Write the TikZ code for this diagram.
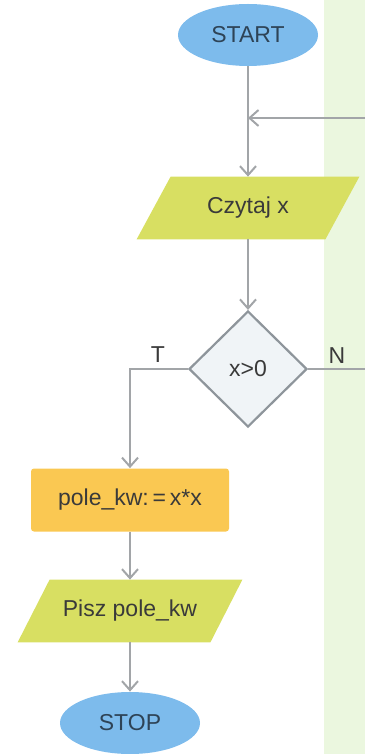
\documentclass[tikz,border=0pt]{standalone}
\usepackage{fontspec}
\setmainfont{Liberation Sans}
\usetikzlibrary{shapes.geometric,arrows.meta}
\pgfdeclarelayer{panel}
\pgfdeclarelayer{bg}
\pgfsetlayers{panel,bg,main}
\definecolor{termblue}{HTML}{7DBBEC}
\definecolor{iofill}{HTML}{D8DF62}
\definecolor{procfill}{HTML}{FAC852}
\definecolor{decfill}{HTML}{F0F4F7}
\definecolor{decdraw}{HTML}{8E959B}
\definecolor{linegray}{HTML}{A2A5A8}
\definecolor{panelgreen}{HTML}{EBF7DF}
\definecolor{txt}{HTML}{3A3A3A}
\definecolor{termtxt}{HTML}{2E4356}
\tikzset{
  every node/.style={font=\fontsize{11.5pt}{13pt}\selectfont, text=txt},
  term/.style={ellipse, fill=termblue, minimum width=70pt, minimum height=31pt, inner sep=0pt, text=termtxt},
  iobox/.style={rectangle, minimum width=94pt, minimum height=31pt, inner sep=0pt},
  procbox/.style={rectangle, fill=procfill, rounded corners=1.5pt, minimum width=99pt, minimum height=31.5pt, inner sep=0pt},
  decbox/.style={diamond, fill=decfill, draw=decdraw, line width=1.1pt, minimum width=59pt, minimum height=58pt, inner sep=0pt},
  conn/.style={draw=linegray, line width=1pt},
  flow/.style={conn, -{Straight Barb[length=4.5pt,width=8pt,line width=1pt]}},
  lbl/.style={inner sep=0pt}
}
\begin{document}
\begin{tikzpicture}[x=0.5pt,y=-0.5pt]
\useasboundingbox (0,0) rectangle (365,754);
\begin{pgfonlayer}{panel}
\fill[panelgreen] (324,0) rectangle (365,754);
\end{pgfonlayer}

\node[term] (start) at (248,35) {START};
\node[iobox] (czytaj) at (248,208) {Czytaj x};
\node[decbox] (dec) at (248,369) {x>0};
\node[procbox] (proc) at (130,500) {pole\_kw:\,=\,x*x};
\node[iobox, minimum width=96pt] (pisz) at (130,611) {Pisz pole\_kw};
\node[term] (stop) at (130,723) {STOP};

\node[lbl] (tlab) at (158,355) {T};
\node[lbl] (nlab) at (337,356) {N};

\begin{pgfonlayer}{bg}
\fill[iofill] ([xshift=-8.5pt]czytaj.south west) -- ([xshift=-8.5pt]czytaj.south east)
  -- ([xshift=8.5pt]czytaj.north east) -- ([xshift=8.5pt]czytaj.north west) -- cycle;
\fill[iofill] ([xshift=-8pt]pisz.south west) -- ([xshift=-8pt]pisz.south east)
  -- ([xshift=8pt]pisz.north east) -- ([xshift=8pt]pisz.north west) -- cycle;
\end{pgfonlayer}

\coordinate (loopin) at (365,118);
\coordinate (nout) at (365,369);

\draw[flow] (start.south) -- (czytaj.north);
\draw[flow] (loopin) -- (loopin -| start.south);
\draw[flow] (czytaj.south) -- (dec.north);
\draw[flow] (dec.west) -| (proc.north);
\draw[conn] (dec.east) -- (nout);
\draw[flow] (proc.south) -- (pisz.north);
\draw[flow] (pisz.south) -- (stop.north);
\end{tikzpicture}
\end{document}
